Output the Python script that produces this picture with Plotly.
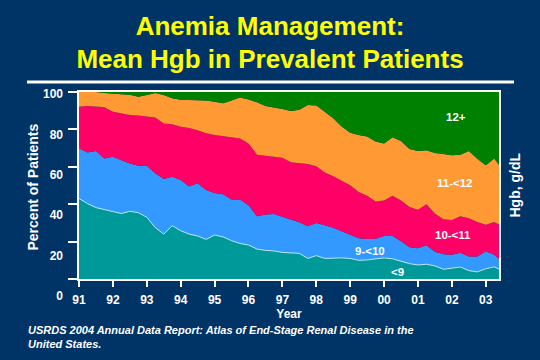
import plotly.graph_objects as go

# ---------------- data (percent of prevalent patients by mean Hgb, g/dL) ----------------
years = [1991.00, 1991.25, 1991.50, 1991.75, 1992.00, 1992.25, 1992.50, 1992.75,
         1993.00, 1993.25, 1993.50, 1993.75, 1994.00, 1994.25, 1994.50, 1994.75,
         1995.00, 1995.25, 1995.50, 1995.75, 1996.00, 1996.25, 1996.50, 1996.75,
         1997.00, 1997.25, 1997.50, 1997.75, 1998.00, 1998.25, 1998.50, 1998.75,
         1999.00, 1999.25, 1999.50, 1999.75, 2000.00, 2000.25, 2000.50, 2000.75,
         2001.00, 2001.25, 2001.50, 2001.75, 2002.00, 2002.25, 2002.50, 2002.75,
         2003.00, 2003.25, 2003.39]

hgb_lt9 = [43.1, 40.3, 38.2, 37.0, 36.0, 35.0, 36.2, 35.5, 33.0, 27.5, 24.0, 28.5, 25.8,
           24.0, 23.0, 21.2, 23.5, 22.5, 20.5, 19.0, 18.2, 16.0, 15.3, 15.0, 14.2, 14.0,
           13.7, 11.0, 12.5, 11.0, 11.2, 11.3, 11.0, 10.0, 10.2, 10.8, 11.3, 10.8, 9.6,
           8.2, 7.5, 7.9, 7.0, 5.2, 5.8, 6.4, 4.5, 3.8, 5.5, 6.5, 5.3]
hgb_9_10 = [26.8, 27.3, 30.3, 27.5, 29.4, 28.5, 25.6, 25.0, 27.5, 29.0, 29.5, 26.2, 27.2,
            25.4, 28.2, 26.4, 22.5, 22.8, 22.0, 23.5, 21.3, 17.5, 19.2, 19.8, 19.1, 17.8,
            16.6, 17.2, 17.5, 17.8, 16.2, 14.2, 12.5, 11.8, 11.2, 10.7, 11.7, 12.2, 10.6,
            8.8, 9.0, 10.1, 7.6, 8.0, 7.2, 7.6, 7.5, 8.2, 9.3, 6.5, 5.4]
hgb_10_11 = [22.2, 24.9, 23.7, 27.3, 24.1, 25.0, 25.9, 26.9, 26.6, 29.9, 29.7, 28.0, 28.4,
             31.4, 28.3, 30.3, 31.0, 31.2, 33.3, 32.7, 33.0, 33.0, 31.4, 30.7, 31.6, 30.7,
             31.7, 33.3, 30.3, 28.2, 27.6, 27.0, 26.7, 24.7, 23.1, 20.0, 19.0, 21.5, 21.8,
             21.5, 20.5, 22.0, 20.4, 18.8, 18.5, 19.5, 20.5, 18.5, 14.2, 17.5, 18.5]
hgb_11_12 = [7.9, 7.5, 7.8, 7.7, 9.5, 10.3, 10.8, 10.1, 11.3, 13.1, 15.2, 13.9, 14.4,
             15.0, 16.1, 17.6, 17.8, 17.5, 19.7, 21.8, 23.5, 28.0, 26.6, 26.3, 26.0, 27.3,
             28.5, 31.5, 32.5, 32.5, 31.0, 29.0, 28.0, 30.5, 31.7, 32.0, 30.5, 31.3, 31.8,
             31.0, 31.5, 28.8, 32.4, 34.8, 34.7, 33.0, 36.0, 33.8, 31.8, 34.0, 31.8]
hgb_12plus = [0.0, 0.0, 0.0, 0.5, 1.0, 1.2, 1.5, 2.5, 1.6, 0.5, 1.6, 3.4, 4.2,
              4.2, 4.4, 4.5, 5.2, 6.0, 4.5, 3.0, 4.0, 5.5, 7.5, 8.2, 9.1, 10.2,
              9.5, 7.0, 7.2, 10.5, 14.0, 18.5, 21.8, 23.0, 23.8, 26.5, 27.5, 24.2, 26.2,
              30.5, 31.5, 31.2, 32.6, 33.2, 33.8, 33.5, 31.5, 35.7, 39.2, 35.5, 39.0]

series_names = ["<9", "9-<10", "10-<11", "11-<12", "12+"]
series_values = [hgb_lt9, hgb_9_10, hgb_10_11, hgb_11_12, hgb_12plus]
series_colors = ["#009999", "#3399FF", "#FF0066", "#FF9933", "#008000"]

year_ticks = list(range(1991, 2004))
year_labels = ["91", "92", "93", "94", "95", "96", "97", "98", "99", "00", "01", "02", "03"]
pct_ticks = [0, 20, 40, 60, 80, 100]

# in-chart label positions (year, percent)
label_pos = {"12+": (2002.12, 86.6), "11-<12": (2002.08, 51.1), "10-<11": (2002.02, 23.5),
             "9-<10": (1999.58, 15.0), "<9": (2000.40, 3.7)}

FONT = "Arial, 'Liberation Sans', sans-serif"
BG = "#003366"

fig = go.Figure()
for name, vals, col in zip(series_names, series_values, series_colors):
    is_first = name == "<9"
    fig.add_trace(go.Scatter(
        x=years, y=vals, name=name, stackgroup="one", mode="lines",
        fillcolor=col,
        line=dict(color="#BDEBEE" if is_first else col, width=1 if is_first else 0),
        hovertemplate="%{x}: %{y}%<extra>" + name + "</extra>",
    ))

# helper axis that carries the (offset) percent labels
fig.add_trace(go.Scatter(x=[None], y=[None], yaxis="y2", showlegend=False, hoverinfo="skip"))

W, H = 540, 360
ML, MR, MT, MB = 40, 41, 92, 64
pw = W - ML - MR
ph = H - MT - MB

fig.update_layout(
    width=W, height=H,
    paper_bgcolor=BG, plot_bgcolor="rgba(0,0,0,0)",
    margin=dict(l=ML, r=MR, t=MT, b=MB, autoexpand=False),
    showlegend=False,
    font=dict(family=FONT, color="white"),
    title=dict(text="Anemia Management:<br>Mean Hgb in Prevalent Patients",
               x=0.5, xref="container", xanchor="center",
               y=1 - 34.5 / H, yref="container", yanchor="middle",
               font=dict(family=FONT, size=26, color="#FFFF00", weight="bold")),
    xaxis=dict(domain=[(79 - ML) / pw, 1], range=[1991, 2003.39], automargin=False,
               tickvals=year_ticks, ticktext=year_labels,
               ticks="outside", ticklen=6, tickwidth=2, tickcolor="white",
               ticklabelstandoff=3,
               showline=True, linecolor="white", linewidth=2, mirror=True,
               showgrid=False, zeroline=False,
               tickfont=dict(family=FONT, size=12, color="white", weight="bold"),
               title=dict(text="Year", standoff=1,
                          font=dict(family=FONT, size=12, color="white", weight="bold"))),
    yaxis=dict(domain=[(296 - 279) / ph, 1], range=[0, 100], automargin=False,
               tickvals=pct_ticks, showticklabels=False,
               ticks="outside", ticklen=9, tickwidth=2, tickcolor="white",
               showline=True, linecolor="white", linewidth=2, mirror=True,
               showgrid=False, zeroline=False),
    yaxis2=dict(domain=[0, (296 - 94) / ph], range=[0, 100], anchor="free",
                position=(63 - ML) / pw, side="left", automargin=False,
                tickvals=pct_ticks, ticks="", showline=False, showgrid=False,
                zeroline=False,
                tickfont=dict(family=FONT, size=12, color="white", weight="bold")),
)

# separator line under the title
fig.add_shape(type="line", xref="paper", yref="paper",
              x0=(27 - ML) / pw, x1=(514 - ML) / pw,
              y0=(296 - 82) / ph, y1=(296 - 82) / ph,
              line=dict(color="white", width=3))

# axis side titles
fig.add_annotation(text="Percent of Patients", textangle=-90, showarrow=False,
                   xref="paper", yref="paper", x=(32 - ML) / pw, y=(296 - 187.5) / ph,
                   xanchor="center", yanchor="middle",
                   font=dict(family=FONT, size=14, color="white", weight="bold"))
fig.add_annotation(text="Hgb, g/dL", textangle=-90, showarrow=False,
                   xref="paper", yref="paper", x=(514 - ML) / pw, y=(296 - 185.5) / ph,
                   xanchor="center", yanchor="middle",
                   font=dict(family=FONT, size=14, color="white", weight="bold"))

# in-chart category labels
for name, (lx, ly) in label_pos.items():
    fig.add_annotation(text=name, x=lx, y=ly, xref="x", yref="y", showarrow=False,
                       xanchor="center", yanchor="middle",
                       font=dict(family=FONT, size=11.5, color="white", weight="bold"))

# source note
fig.add_annotation(
    text="USRDS 2004 Annual Data Report: Atlas of End-Stage Renal Disease in the<br>United States.",
    showarrow=False, xref="paper", yref="paper", x=(26 - ML) / pw, y=(296 - 337) / ph,
    xanchor="left", yanchor="middle", align="left",
    font=dict(family=FONT, size=11, color="white", weight="bold", style="italic"))

fig.write_html(
    "out.html",
    config={"displayModeBar": False},
    post_script="document.body.style.margin='0';document.body.style.background='" + BG + "';"
                "document.documentElement.style.background='" + BG + "';",
)
